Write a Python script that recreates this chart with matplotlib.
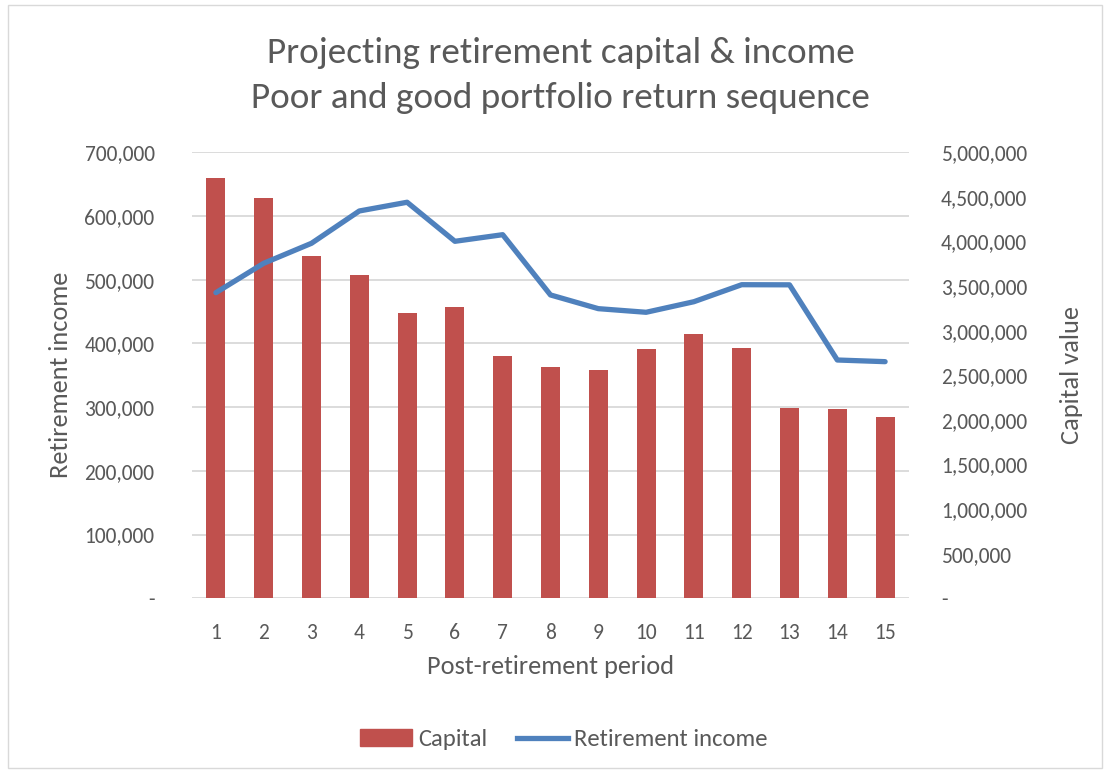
import matplotlib.pyplot as plt
from matplotlib.patches import Rectangle, Patch
from matplotlib.lines import Line2D
from matplotlib.ticker import FuncFormatter

plt.rcParams['font.family'] = ['Carlito', 'Lato', 'DejaVu Sans']

periods = list(range(1, 16))
capital = [4709000, 4484000, 3838000, 3621000, 3195000, 3262000, 2713000, 2593000,
           2559000, 2791000, 2960000, 2806000, 2137000, 2119000, 2033000]
income = [479700, 525800, 557200, 607900, 621600, 560300, 570700, 476100,
          454600, 448900, 465500, 492200, 492000, 374000, 371400]

title = 'Projecting retirement capital & income\nPoor and good portfolio return sequence'
grey = '#595959'
bar_col = '#C0504D'
line_col = '#4F81BD'


def fmt(v, pos):
    return '-' if v == 0 else '{:,.0f}'.format(v)


fig = plt.figure(figsize=(11.1, 7.73), dpi=100)
pos = [192 / 1110, 1 - 598.3 / 773, (909 - 192) / 1110, (598.3 - 152.3) / 773]

# left axis: gridlines + ticks
ax = fig.add_axes(pos)
ax.set_xlim(0.5, 15.5)
ax.set_ylim(0, 700000)
ax.set_yticks(range(0, 700001, 100000))
ax.yaxis.set_major_formatter(FuncFormatter(fmt))
ax.grid(axis='y', color='#D9D9D9', linewidth=1.3)
ax.set_axisbelow(True)
for s in ax.spines.values():
    s.set_visible(False)
ax.tick_params(axis='y', length=0, pad=27, labelsize=15.5, labelcolor=grey)
ax.tick_params(axis='x', length=0, pad=18, labelsize=15.5, labelcolor=grey)
ax.set_xticks(periods)
ax.set_ylabel('Retirement income', fontsize=19, color=grey)
ax.yaxis.set_label_coords(-0.167, 0.5)
ax.set_xlabel('Post-retirement period', fontsize=19, color=grey)
ax.xaxis.set_label_coords(0.5, -0.127)

# right axis: bars
ax2 = ax.twinx()
ax2.bar(periods, capital, width=0.4, color=bar_col, zorder=2)
ax2.set_ylim(0, 5000000)
ax2.set_yticks(range(0, 5000001, 500000))
ax2.yaxis.set_major_formatter(FuncFormatter(fmt))
for s in ax2.spines.values():
    s.set_visible(False)
ax2.tick_params(axis='y', length=0, pad=23, labelsize=15.5, labelcolor=grey)
ax2.set_ylabel('Capital value', fontsize=19, color=grey, rotation=90)
ax2.yaxis.set_label_coords(1.21, 0.5)

# top layer: income line on left scale
ax3 = fig.add_axes(pos, sharex=ax, sharey=ax)
ax3.patch.set_visible(False)
ax3.axis('off')
ax3.plot(periods, income, color=line_col, linewidth=3.8, solid_capstyle='round',
         solid_joinstyle='round')

fig.text(0.505, 0.902, title, ha='center', va='center', fontsize=26.7, color=grey,
         linespacing=1.5)

handles = [Patch(color=bar_col), Line2D([], [], color=line_col, linewidth=3.8)]
fig.legend(handles, ['Capital', 'Retirement income'], loc='center',
           bbox_to_anchor=(0.508, 0.043), ncol=2, frameon=False, fontsize=17.7,
           labelcolor=grey, handlelength=2.1, handletextpad=0.25, columnspacing=1.2)

fig.patches.append(Rectangle((0.007, 0.007), 0.986, 0.986, transform=fig.transFigure,
                             fill=False, edgecolor='#D9D9D9', linewidth=1))

fig.savefig('out.png', dpi=100)
